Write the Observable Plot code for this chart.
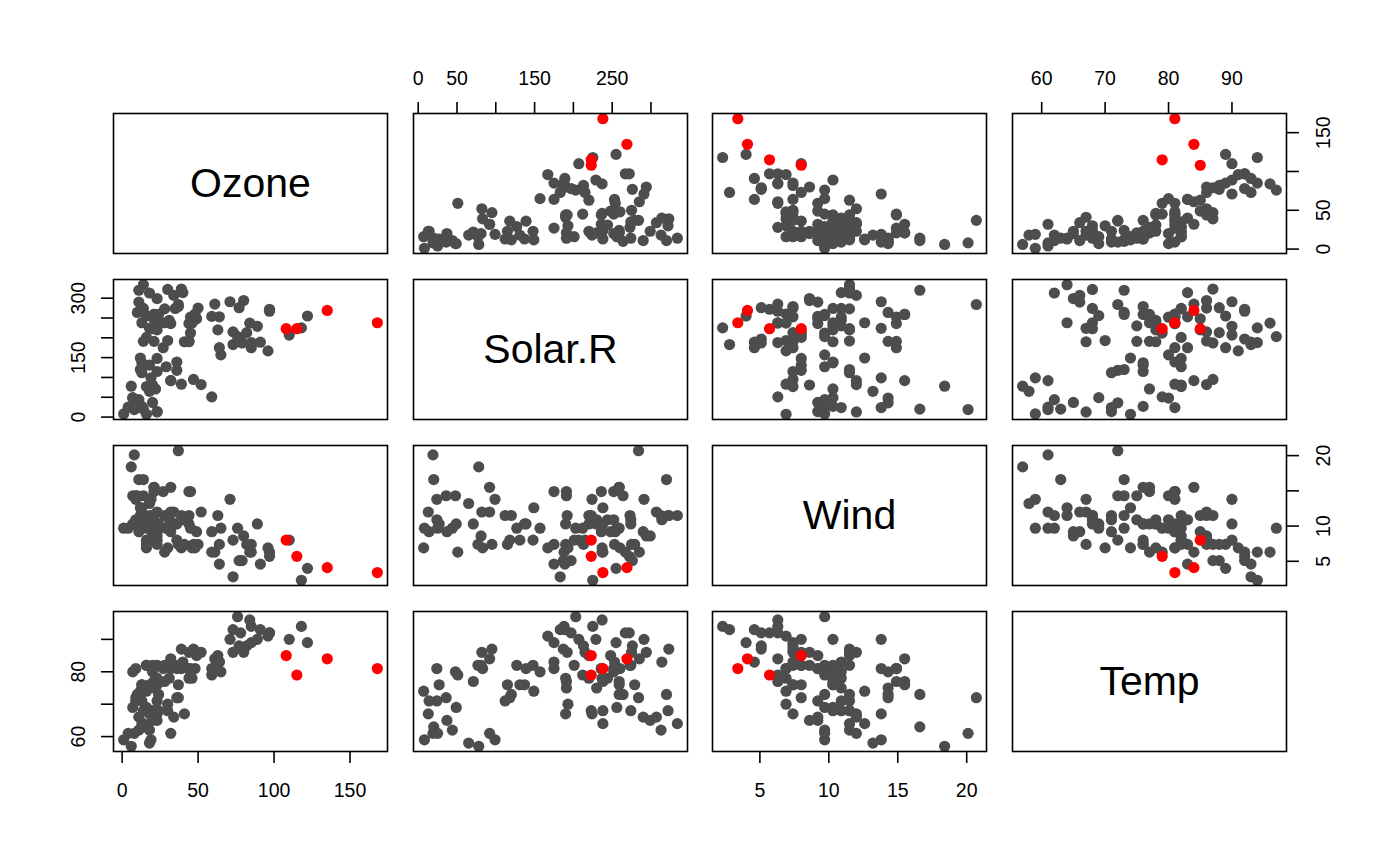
<!DOCTYPE html>
<html><head><meta charset="utf-8">
<script src="https://cdn.jsdelivr.net/npm/d3@7"></script>
<script src="https://cdn.jsdelivr.net/npm/@observablehq/plot@0.6"></script>
<style>
html,body{margin:0;padding:0;background:#fff;}
#chart{position:relative;width:1400px;height:865px;overflow:hidden;font-family:"Liberation Sans",Arial,Helvetica,sans-serif;}
.cell{position:absolute;}
.cell svg{display:block;max-width:none;background:transparent;overflow:visible;}
</style></head><body><div id="chart"></div>
<script>
// airquality, complete cases
const varNames = ["Ozone", "Solar.R", "Wind", "Temp"];
const ozone = [41,36,12,18,23,19,8,16,11,14,18,14,34,6,30,11,1,11,4,32,23,45,115,37,29,71,39,23,21,37,20,12,13,135,49,32,64,40,77,97,97,85,10,27,7,48,35,61,79,63,16,80,108,20,52,82,50,64,59,39,9,16,122,89,110,44,28,65,22,59,23,31,44,21,9,45,168,73,76,118,84,85,96,78,73,91,47,32,20,23,21,24,44,21,28,9,13,46,18,13,24,16,13,23,36,7,14,30,14,18,20];
const solar = [190,118,149,313,299,99,19,256,290,274,65,334,307,78,322,44,8,320,25,92,13,252,223,279,127,291,323,148,191,284,37,120,137,269,248,236,175,314,276,267,272,175,264,175,48,260,274,285,187,220,7,294,223,81,82,213,275,253,254,83,24,77,255,229,207,192,273,157,71,51,115,244,190,259,36,212,238,215,203,225,237,188,167,197,183,189,95,92,252,220,230,259,236,259,238,24,112,237,224,27,238,201,238,14,139,49,20,193,191,131,223];
const wind = [7.4,8.0,12.6,11.5,8.6,13.8,20.1,9.7,9.2,10.9,13.2,11.5,12.0,18.4,11.5,9.7,9.7,16.6,9.7,12.0,12.0,14.9,5.7,7.4,9.7,13.8,11.5,8.0,14.9,20.7,9.2,11.5,10.3,4.1,9.2,9.2,4.6,10.9,5.1,6.3,5.7,7.4,14.3,14.9,14.3,6.9,10.3,6.3,5.1,11.5,6.9,8.6,8.0,8.6,12.0,7.4,7.4,7.4,9.2,6.9,13.8,7.4,4.0,10.3,8.0,11.5,11.5,9.7,10.3,6.3,7.4,10.9,10.3,15.5,14.3,9.7,3.4,8.0,9.7,2.3,6.3,6.3,6.9,5.1,2.8,4.6,7.4,15.5,10.9,10.3,10.9,9.7,14.9,15.5,6.3,10.9,11.5,6.9,13.8,10.3,10.3,8.0,12.6,9.2,10.3,10.3,16.6,6.9,14.3,8.0,11.5];
const temp = [67,72,74,62,65,59,61,69,66,68,58,64,66,57,68,62,59,73,61,61,67,81,79,76,82,90,87,82,77,72,65,73,76,84,85,81,83,83,88,92,92,89,73,81,80,81,82,84,87,85,74,86,85,82,86,88,86,83,81,81,81,82,89,90,90,86,82,80,77,79,76,78,78,77,72,79,81,86,97,94,96,94,91,92,93,93,87,84,80,78,75,73,81,76,77,71,71,78,67,76,68,82,64,71,81,69,63,70,75,76,68];
// indices of the highlighted (red) observations
const highlighted = [22, 33, 52, 76];

// tick positions and which ticks carry a label, per axis side
const tickValues = {
  "Ozone": [0, 50, 100, 150],
  "Solar.R": [0, 50, 100, 150, 200, 250, 300],
  "Wind": [5, 10, 15, 20],
  "Temp": [60, 70, 80, 90]
};
const topLabels = {"Solar.R": [0, 50, 150, 250], "Temp": [60, 70, 80, 90]};
const rightLabels = {"Ozone": [0, 50, 150], "Wind": [5, 10, 20]};
const leftLabels = {"Solar.R": [0, 150, 300], "Temp": [60, 80]};
const bottomLabels = {"Ozone": [0, 50, 100, 150], "Wind": [5, 10, 15, 20]};

const rows = ozone.map((d, i) => ({
  "Ozone": d, "Solar.R": solar[i], "Wind": wind[i], "Temp": temp[i],
  hi: highlighted.includes(i)
}));

function paddedDomain(v) {
  const [a, b] = d3.extent(rows, d => d[v]);
  const p = 0.04 * (b - a);
  return [a - p, b + p];
}
const domains = Object.fromEntries(varNames.map(v => [v, paddedDomain(v)]));

const colLeft = [113.3, 412.7, 712.3, 1012.3];
const rowTop = [113.3, 279.3, 445, 610.7];
const PW = 274, PH = 140, M = 60;
const FONT = '"Liberation Sans", Arial, Helvetica, sans-serif';
const TICKFS = 19.5;

const chart = document.getElementById("chart");

for (let r = 0; r < 4; r++) {
  for (let c = 0; c < 4; c++) {
    const vx = varNames[c], vy = varNames[r];
    const marks = [];
    let hasX = false, hasY = false;
    if (r === c) {
      marks.push(Plot.text([vx], {frameAnchor: "middle", text: d => d, fontSize: 41, fill: "black"}));
    } else {
      marks.push(Plot.dot(rows.filter(d => !d.hi), {x: vx, y: vy, r: 5.6, fill: "#4D4D4D"}));
      marks.push(Plot.dot(rows.filter(d => d.hi), {x: vx, y: vy, r: 5.6, fill: "#FF0000"}));
      if (r === 0 && c % 2 === 1) {
        hasX = true;
        const L = topLabels[vx];
        marks.push(Plot.axisX({anchor: "top", ticks: tickValues[vx], tickSize: 12, tickPadding: 17,
          tickFormat: d => L.includes(d) ? String(d) : "", fontSize: TICKFS, strokeWidth: 1.6, label: null}));
      }
      if (r === 3 && c % 2 === 0) {
        hasX = true;
        const L = bottomLabels[vx];
        marks.push(Plot.axisX({anchor: "bottom", ticks: tickValues[vx], tickSize: 12, tickPadding: 20,
          tickFormat: d => L.includes(d) ? String(d) : "", fontSize: TICKFS, strokeWidth: 1.6, label: null}));
      }
      if (c === 0 && r % 2 === 1) {
        hasY = true;
        const L = leftLabels[vy];
        marks.push(Plot.axisY({anchor: "left", ticks: tickValues[vy], tickSize: 12, tickPadding: 17,
          tickRotate: -90, textAnchor: "middle", lineAnchor: "bottom",
          tickFormat: d => L.includes(d) ? String(d) : "", fontSize: TICKFS, strokeWidth: 1.6, label: null}));
      }
      if (c === 3 && r % 2 === 0) {
        hasY = true;
        const L = rightLabels[vy];
        marks.push(Plot.axisY({anchor: "right", ticks: tickValues[vy], tickSize: 12, tickPadding: 18,
          tickRotate: -90, textAnchor: "middle", lineAnchor: "top",
          tickFormat: d => L.includes(d) ? String(d) : "", fontSize: TICKFS, strokeWidth: 1.6, label: null}));
      }
    }
    marks.push(Plot.frame({stroke: "black", strokeWidth: 1.6}));

    const svg = Plot.plot({
      width: PW + 2 * M, height: PH + 2 * M,
      marginTop: M, marginBottom: M, marginLeft: M, marginRight: M,
      style: {fontFamily: FONT, fontSize: TICKFS + "px", background: "transparent", color: "black", overflow: "visible"},
      x: {domain: domains[vx], label: null, ...(hasX ? {} : {axis: null})},
      y: {domain: domains[vy], label: null, ...(hasY ? {} : {axis: null})},
      marks
    });
    const div = document.createElement("div");
    div.className = "cell";
    div.style.left = (colLeft[c] - M) + "px";
    div.style.top = (rowTop[r] - M) + "px";
    div.appendChild(svg);
    chart.appendChild(div);
  }
}
</script>
</body></html>
